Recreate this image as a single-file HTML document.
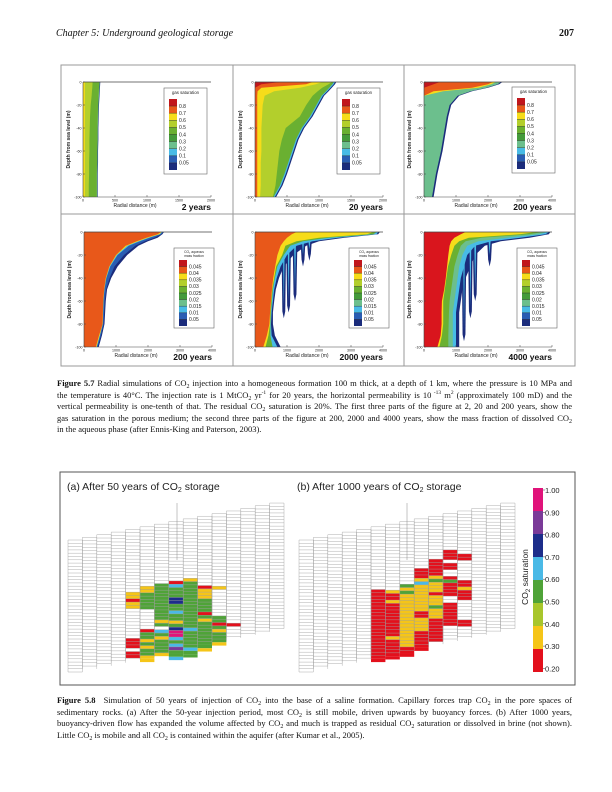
<!DOCTYPE html>
<html><head><meta charset="utf-8">
<style>
html,body{margin:0;padding:0;background:#fff;}
#page{position:relative;width:612px;height:792px;overflow:hidden;background:#fff;font-family:"Liberation Serif",serif;}
.hdr{position:absolute;top:28px;font-size:10px;color:#111;}
.cap{position:absolute;left:57px;width:515px;font-size:8.5px;line-height:11.6px;color:#111;font-family:"Liberation Serif",serif;}
.cap div{text-align:justify;text-align-last:justify;white-space:nowrap;}
.cap div.last{text-align-last:left;}
sub{font-size:6px;vertical-align:-2px;line-height:0;}
sup{font-size:5.5px;line-height:0;}
svg text{font-family:"Liberation Sans",sans-serif;}
</style></head><body>
<div id="page">
<div class="hdr" style="left:56px;font-style:italic;">Chapter 5: Underground geological storage</div>
<div class="hdr" style="left:559px;font-weight:bold;">207</div>
<svg id="svg" width="612" height="792" style="position:absolute;left:0;top:0"></svg>
<div class="cap" style="top:378px">
<div><b>Figure 5.7</b> Radial simulations of CO<sub>2</sub> injection into a homogeneous formation 100 m thick, at a depth of 1 km, where the pressure is 10 MPa and</div>
<div>the temperature is 40°C. The injection rate is 1 MtCO<sub>2</sub> yr<sup>-1</sup> for 20 years, the horizontal permeability is 10<sup> -13</sup> m<sup>2</sup> (approximately 100 mD) and the</div>
<div>vertical permeability is one-tenth of that. The residual CO<sub>2</sub> saturation is 20%. The first three parts of the figure at 2, 20 and 200 years, show the</div>
<div>gas saturation in the porous medium; the second three parts of the figure at 200, 2000 and 4000 years, show the mass fraction of dissolved CO<sub>2</sub></div>
<div class="last">in the aqueous phase (after Ennis-King and Paterson, 2003).</div>
</div>
<div class="cap" style="top:695px">
<div><b>Figure 5.8</b>&nbsp; Simulation of 50 years of injection of CO<sub>2</sub> into the base of a saline formation. Capillary forces trap CO<sub>2</sub> in the pore spaces of</div>
<div>sedimentary rocks. (a) After the 50-year injection period, most CO<sub>2</sub> is still mobile, driven upwards by buoyancy forces. (b) After 1000 years,</div>
<div>buoyancy-driven flow has expanded the volume affected by CO<sub>2</sub> and much is trapped as residual CO<sub>2</sub> saturation or dissolved in brine (not shown).</div>
<div class="last">Little CO<sub>2</sub> is mobile and all CO<sub>2</sub> is contained within the aquifer (after Kumar et al., 2005).</div>
</div>
</div>
<script>
// ---------- Figure 5.7 data ----------
const D=[0,2,5,8,12,20,30,40,50,60,70,80,90,100];
const gasLegendLabels=["0.8","0.7","0.6","0.5","0.4","0.3","0.2","0.1","0.05"];
const aqLegendLabels=["0.045","0.04","0.035","0.03","0.025","0.02","0.015","0.01","0.05"];
const yTickLabels=["0","-20","-40","-60","-80","-100"];
const xTicks2000=[0,500,1000,1500,2000];
const xTicks4000=[0,1000,2000,3000,4000];
const yearLabels=["2 years","20 years","200 years","200 years","2000 years","4000 years"];
// panel 1 (2 years) band radii (m) at depths D
const p1Navy=[270,268,265,262,258,250,245,240,240,235,235,230,230,230];
const p1Sea=[262,260,257,254,250,242,237,232,232,227,227,222,222,222];
const p1Green=[255,253,250,247,243,235,230,225,225,220,220,215,215,215];
const p1YG=[150,148,145,140,135,120,110,105,100,100,95,95,90,90];
const p1Yellow=[30,30,30,30,30,30,30,30,30,30,30,30,30,30];
// panel 2 (20 years)
const p2Navy=[1270,1250,1200,1150,1080,1000,900,770,680,620,560,500,430,330];
const p2Cyan=[1250,1230,1180,1130,1060,980,880,750,660,600,540,480,410,310];
const p2Green=[1230,1210,1160,1110,1040,960,860,730,640,580,520,460,390,290];
const p2YG=[1200,1150,1050,980,900,800,700,480,420,380,360,340,320,280];
const p2Yellow=[1050,950,700,300,150,120,110,100,100,100,90,90,90,80];
const p2Orange=[900,800,100,40,35,35,35,35,35,35,35,35,35,35];
const p2Red=[400,100,0,0,0,0,0,0,0,0,0,0,0,0];
// panel 3 (200 years)
const p3Navy=[2450,2350,2000,1500,1100,850,760,700,640,580,500,420,360,300];
const p3Sea=[2400,2300,1950,1450,1050,800,710,650,590,530,450,370,310,250];
const p3Yellow=[2250,2100,1700,600,0,0,0,0,0,0,0,0,0,0];
const p3Orange=[2150,2000,1500,300,0,0,0,0,0,0,0,0,0,0];
const p3Red=[500,300,0,0,0,0,0,0,0,0,0,0,0,0];
// panel 4 (200 years aqueous)
const p4Navy=[2500,2450,2300,2000,1700,1350,1050,850,720,680,660,640,560,460];
const p4Blue=[2480,2420,2200,1900,1600,1250,950,800,690,650,630,615,530,430];
const p4Cyan=[2450,2380,2050,1750,1400,1050,820,700,640,610,600,590,500,400];
const p4Yellow=[2430,2360,2000,1700,1350,1020,800,690,635,605,595,585,490,390];
const p4Orange=[2400,2300,1950,1650,1300,1000,790,680,630,600,590,580,470,370];
// panel 5 (2000 years)
const p5Navy=[3900,3850,2800,2000,1600,1200,900,750,650,600,560,560,620,800];
const p5Cyan=[3850,3800,2600,1800,1300,1000,800,680,600,560,520,500,520,700];
const p5Green=[3800,3700,2300,1500,1100,900,700,620,560,530,500,480,480,550];
const p5Yellow=[3700,3500,2000,1300,950,850,660,600,540,510,480,470,420,330];
const p5Orange=[1300,1150,1000,900,800,700,630,570,530,500,470,450,370,260];
const p5FingerX=[900,1050,1250,1500,1700];
const p5FingerDepth=[75,70,60,30,25];
// panel 6 (4000 years)
const p6Navy=[3950,3900,3300,2400,1900,1600,1450,1300,1200,1150,1100,1100,1100,1100];
const p6Cyan=[3900,3800,3000,2100,1600,1350,1250,1150,1100,1050,1000,1000,1000,1000];
const p6Sea=[3850,3600,2600,1700,1350,1200,1100,1050,1000,950,900,900,900,900];
const p6Green=[3700,3300,1800,1300,1150,1050,950,900,850,800,780,770,760,760];
const p6Yellow=[3500,3000,1400,1100,950,850,750,700,650,600,600,600,560,480];
const p6Red=[1300,1150,950,850,800,760,720,680,630,560,550,550,520,420];
const p6FingerX=[1250,1450,1600,2050];
const p6FingerDepth=[95,75,60,30];

// ---------- Figure 5.8 data ----------
const satLabels=["1.00","0.90","0.80","0.70","0.60","0.50","0.40","0.30","0.20"];
const cellsA=[[4,19,"yyryy"],[4,33,"rrr.rr"],[5,18,"yyGGGGG"],[5,31,"rGGyGyGGyy"],
 [6,18,"GGGGGGGGGGGyG.cGyGGGGy"],[7,18,"rcGGGnnGGcGGyGnmmcGcpGGc"],[8,18,"yGGGGGGGGGGGGGGcGGGGGcGG"],
 [9,21,"ryyyGGGGrGyGGGGGGGGy"],[10,22,"y"],[10,31,"GGrGyGGGy"],[11,34,"r"]];
const cellsB=[[5,19,"rrrrrrrrrrrrrrrrrrrrrr"],[6,20,"yrryrrrrrrrrrryrrrrrr"],[7,19,"GyGyyyyyyyyyyyyyyyyrrr"],
 [8,15,"rrrycyyyyyyyyrryyyyrrrrrr"],[9,13,"rrrrryGyyyryyyGyyyrrrrrrr"],[10,11,"rrr.rr..rGrrrr..rrrrrrr"],
 [11,13,"rr......rryrrr......rr"]];

const NS="http://www.w3.org/2000/svg";
const svg=document.getElementById('svg');
function mk(tag,attrs,parent){const e=document.createElementNS(NS,tag);for(const k in attrs)e.setAttribute(k,attrs[k]);(parent||svg).appendChild(e);return e;}
function txt(x,y,s,size,attrs,parent){const t=mk('text',Object.assign({x:x,y:y,'font-size':size,fill:'#222'},attrs||{}),parent);t.textContent=s;return t;}

const C={red:'#c1161c',orange:'#e8581a',yellow:'#f6dc1a',yg:'#b3cf2c',green:'#6ab031',dgreen:'#449a3a',sea:'#6cbf8d',cyan:'#48bbe6',blue:'#2a5db2',navy:'#1b2c7c',red6:'#d9151d'};
const legendColors=[C.red,C.orange,C.yellow,C.yg,C.green,C.dgreen,C.sea,C.cyan,C.blue,C.navy];

// frames
const f1=mk('rect',{x:61,y:65,width:514,height:301,fill:'none',stroke:'#999','stroke-width':1});

mk('line',{x1:233,y1:65,x2:233,y2:366,stroke:'#999'});
mk('line',{x1:404,y1:65,x2:404,y2:366,stroke:'#999'});
mk('line',{x1:61,y1:214,x2:575,y2:214,stroke:'#999'});

const panels=[
 {left:83,top:82,xmax:2000,ticks:xTicks2000,leg:81,legTop:88,aq:false,bands:[[C.navy,p1Navy],[C.sea,p1Sea],[C.green,p1Green],[C.yg,p1YG],[C.yellow,p1Yellow]]},
 {left:255,top:82,xmax:2000,ticks:xTicks2000,leg:82,legTop:88,aq:false,bands:[[C.navy,p2Navy],[C.cyan,p2Cyan],[C.green,p2Green],[C.yg,p2YG],[C.yellow,p2Yellow],[C.orange,p2Orange],[C.red,p2Red]]},
 {left:424,top:82,xmax:4000,ticks:xTicks4000,leg:88,legTop:87,aq:false,bands:[[C.navy,p3Navy],[C.sea,p3Sea],[C.yellow,p3Yellow],[C.orange,p3Orange],[C.red,p3Red]]},
 {left:84,top:232,xmax:4000,ticks:xTicks4000,leg:90,legTop:248,aq:true,bands:[[C.navy,p4Navy],[C.blue,p4Blue],[C.cyan,p4Cyan],[C.yellow,p4Yellow],[C.orange,p4Orange]]},
 {left:255,top:232,xmax:4000,ticks:xTicks4000,leg:94,legTop:248,aq:true,fx:p5FingerX,fd:p5FingerDepth,bands:[[C.navy,p5Navy],[C.cyan,p5Cyan],[C.green,p5Green],[C.yellow,p5Yellow],[C.orange,p5Orange]]},
 {left:424,top:232,xmax:4000,ticks:xTicks4000,leg:93,legTop:248,aq:true,fx:p6FingerX,fd:p6FingerDepth,bands:[[C.navy,p6Navy],[C.cyan,p6Cyan],[C.sea,p6Sea],[C.green,p6Green],[C.yellow,p6Yellow],[C.red6,p6Red]]}
];
const W=128,H=115;
panels.forEach((p,pi)=>{
 const g=mk('g',{});
 
 
 const xs=v=>p.left+v/p.xmax*W, ys=d=>p.top+d/100*H;
 p.bands.forEach((b,bi)=>{
   if(bi===1 && p.fx){
     p.fx.forEach((fx,fi)=>{
       const hw=75, dep=p.fd[fi];
       const f=mk('polygon',{points:[[xs(fx-hw),ys(8)],[xs(fx+hw),ys(8)],[xs(fx+hw*0.6),ys(dep-6)],[xs(fx),ys(dep)],[xs(fx-hw*0.6),ys(dep-6)]].map(q=>q.join(',')).join(' '),fill:C.navy},g);
       
       
       mk('polygon',{points:[[xs(fx-hw*0.4),ys(8)],[xs(fx+hw*0.4),ys(8)],[xs(fx),ys(dep-10)]].map(q=>q.join(',')).join(' '),fill:C.cyan},g);
     });
   }
   let pts=[[xs(0),ys(0)]];
   D.forEach((d,i)=>pts.push([xs(b[1][i]),ys(d)]));
   pts.push([xs(0),ys(100)]);
   const poly=mk('polygon',{points:pts.map(q=>q.map(v=>v.toFixed(2)).join(',')).join(' '),fill:b[0]},g);
   
   
 });
 // axes
 mk('line',{x1:p.left,y1:p.top,x2:p.left+W,y2:p.top,stroke:'#444','stroke-width':0.8},g);
 mk('line',{x1:p.left,y1:p.top,x2:p.left,y2:p.top+H,stroke:'#444','stroke-width':0.6},g);
 mk('line',{x1:p.left,y1:p.top+H,x2:p.left+W,y2:p.top+H,stroke:'#444','stroke-width':0.6},g);
 p.ticks.forEach(t=>{mk('line',{x1:xs(t),y1:p.top+H,x2:xs(t),y2:p.top+H-2,stroke:'#444','stroke-width':0.5},g);
   const tl=txt(xs(t),p.top+H+4.5,String(t),3.6,{'text-anchor':'middle'},g);
   });
 yTickLabels.forEach((l,i)=>{const y=ys(i*20);mk('line',{x1:p.left,y1:y,x2:p.left+2,y2:y,stroke:'#444','stroke-width':0.5},g);
   const tl=txt(p.left-1.5,y+1.3,l,3.6,{'text-anchor':'end'},g);
   });
 const yl=txt(0,0,'Depth from sea level (m)',5,{'font-weight':'bold','text-anchor':'middle',transform:`translate(${p.left-13},${p.top+H/2}) rotate(-90)`},g);
 
 const xl=txt(p.left+W/2-12,p.top+H+10,'Radial distance (m)',5,{'text-anchor':'middle'},g);
 
 const yr=txt(p.left+W,p.top+H+13,yearLabels[pi],8.5,{'font-weight':'bold','text-anchor':'end',fill:'#111'},g);
 
 // legend
 const lx=p.left+p.leg, ly=p.legTop, lw=p.aq?40:43, lh=p.aq?80:86;
 const lg=mk('g',{},g);
 
 
 mk('rect',{x:lx,y:ly,width:lw,height:lh,fill:'#fff',stroke:'#666','stroke-width':0.6},lg);
 let sy;
 if(p.aq){txt(lx+lw/2,ly+5,'CO\u2082 aqueous',3.3,{'text-anchor':'middle'},lg);txt(lx+lw/2,ly+9,'mass fraction',3.3,{'text-anchor':'middle'},lg);sy=ly+12;}
 else{txt(lx+lw/2,ly+6,'gas saturation',4.3,{'text-anchor':'middle'},lg);sy=ly+11;}
 const sh=p.aq?6.6:7.1;
 legendColors.forEach((c,i)=>{mk('rect',{x:lx+5,y:sy+i*sh,width:8,height:sh,fill:c},lg);});
 const labs=p.aq?aqLegendLabels:gasLegendLabels;
 labs.forEach((l,i)=>{mk('line',{x1:lx+5,y1:sy+(i+1)*sh,x2:lx+13,y2:sy+(i+1)*sh,stroke:'#222','stroke-width':0.4},lg);
   const e=txt(lx+15,sy+(i+1)*sh+1.8,l,5,{},lg);});
});

// ---------- Figure 5.8 ----------
const f2=mk('rect',{x:60,y:472,width:515,height:213,fill:'none',stroke:'#555','stroke-width':1});

const ta=mk('text',{x:67,y:490,'font-size':10.5,fill:'#222'});ta.innerHTML='(a) After 50 years of CO<tspan font-size="7" dy="2">2</tspan><tspan dy="-2"> storage</tspan>';

const tb=mk('text',{x:297,y:490,'font-size':10.5,fill:'#222'});tb.innerHTML='(b) After 1000 years of CO<tspan font-size="7" dy="2">2</tspan><tspan dy="-2"> storage</tspan>';

const cellColor={r:'#e3101c',y:'#f5c518',g:'#a8c62c',G:'#4fa338',c:'#4ab9e6',n:'#1d2d8a',m:'#e0137a',p:'#7a3a98'};
const NC=15,colW=14.4,rowH=3.3;
const colTop=i=>540-i*2.64, colBot=i=>672-i*3.1;
function grid(x0,cells,name,cx){
 const g=mk('g',{});
 
 
 cells.forEach(c=>{const col=c[0];for(let k=0;k<c[2].length;k++){const ch=c[2][k];if(ch==='.')continue;
   const r=mk('rect',{x:x0+col*colW,y:colTop(col)+(c[1]+k)*rowH,width:colW,height:rowH,fill:cellColor[ch]},g);
   }});
 for(let i=0;i<NC;i++){
   const x=x0+i*colW,t=colTop(i),b=colBot(i);
   for(let y=t;y<=b+0.01;y+=rowH) mk('line',{x1:x,y1:y,x2:x+colW,y2:y,stroke:'#9a9a9a','stroke-width':0.4},g);
   mk('line',{x1:x,y1:t,x2:x,y2:b,stroke:'#9a9a9a','stroke-width':0.4},g);
   mk('line',{x1:x+colW,y1:t,x2:x+colW,y2:b,stroke:'#9a9a9a','stroke-width':0.4},g);
 }
 mk('line',{x1:cx,y1:503,x2:cx,y2:560,stroke:'#888','stroke-width':0.5},g);
}
grid(68,cellsA,'grid-50-years',177);
grid(299,cellsB,'grid-1000-years',407);
// colorbar
const cbColors=['#e0137a','#7a3a98','#1d2d8a','#4ab9e6','#4fa338','#a8c62c','#f5c518','#e3101c'];
const cb=mk('g',{});


cbColors.forEach((c,i)=>mk('rect',{x:533,y:488+i*23,width:10,height:23,fill:c},cb));
satLabels.forEach((l,i)=>{const y=490+i*22.3;mk('line',{x1:543,y1:y,x2:545,y2:y,stroke:'#333','stroke-width':0.5},cb);
  const e=txt(545,y+3,l,7.5,{},cb);});
const ct=mk('text',{x:0,y:0,'font-size':8.5,fill:'#222','text-anchor':'middle',transform:'translate(528,577) rotate(-90)'},cb);
ct.innerHTML='CO<tspan font-size="6" dy="2">2</tspan><tspan dy="-2"> saturation</tspan>';

</script>
</body></html>
